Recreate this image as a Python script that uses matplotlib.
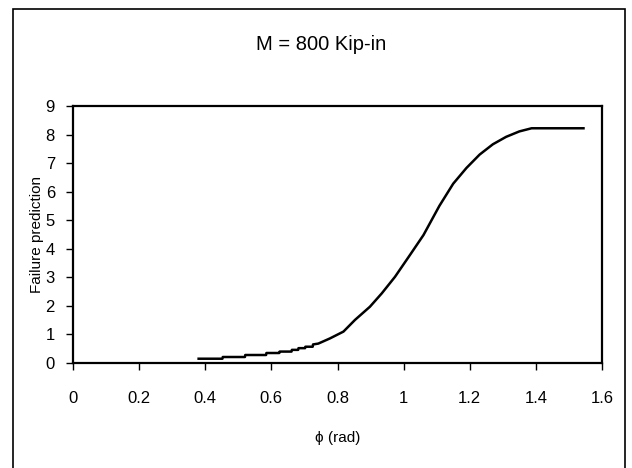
import matplotlib
matplotlib.use("Agg")
import matplotlib.pyplot as plt
from matplotlib.patches import Rectangle

plt.rcParams['font.family'] = ['Liberation Sans', 'DejaVu Sans']

phi = [0.38, 0.452, 0.453, 0.52, 0.521, 0.584, 0.585, 0.624, 0.625, 0.661, 0.662,
       0.681, 0.682, 0.702, 0.703, 0.725, 0.726, 0.742, 0.777, 0.818, 0.853, 0.898,
       0.934, 0.974, 1.019, 1.060, 1.108, 1.150, 1.190, 1.230, 1.270, 1.310, 1.350,
       1.387, 1.544]
failure = [0.15, 0.15, 0.21, 0.21, 0.28, 0.28, 0.35, 0.35, 0.40, 0.40, 0.46,
           0.46, 0.52, 0.52, 0.57, 0.57, 0.65, 0.68, 0.86, 1.10, 1.51, 1.97,
           2.44, 3.02, 3.78, 4.48, 5.50, 6.28, 6.83, 7.30, 7.66, 7.92, 8.11,
           8.22, 8.22]

xticks = [0, 0.2, 0.4, 0.6, 0.8, 1.0, 1.2, 1.4, 1.6]
xticklabels = ["0", "0.2", "0.4", "0.6", "0.8", "1", "1.2", "1.4", "1.6"]
yticks = list(range(0, 10))

W, H = 632, 468
fig = plt.figure(figsize=(W / 100, H / 100), dpi=100)
ax = fig.add_axes([73 / W, 1 - 363 / H, (602 - 73) / W, (363 - 106) / H])

ax.plot(phi, failure, color='black', lw=1.8)
ax.set_xlim(0, 1.6)
ax.set_ylim(0, 9)
ax.set_xticks(xticks)
ax.set_xticklabels(xticklabels)
ax.set_yticks(yticks)
for s in ax.spines.values():
    s.set_linewidth(1.6)
    s.set_color('black')
ax.tick_params(axis='both', direction='out', length=5, width=1, labelsize=12, colors='black')
ax.tick_params(axis='x', pad=15)
ax.tick_params(axis='y', pad=8)

ax.set_xlabel('ϕ (rad)', fontsize=11, labelpad=18)
ax.set_ylabel('Failure prediction', fontsize=11, labelpad=1)

fig.text(321 / W, 1 - 44 / H, 'M = 800 Kip-in', ha='center', va='center', fontsize=14.5)

# outer frame
fig.patches.append(Rectangle((13 / W, -0.02), (625 - 13) / W, 1 - 9 / H + 0.02,
                             transform=fig.transFigure, fill=False,
                             edgecolor='black', lw=1.2))

fig.savefig('out.png', dpi=100)
